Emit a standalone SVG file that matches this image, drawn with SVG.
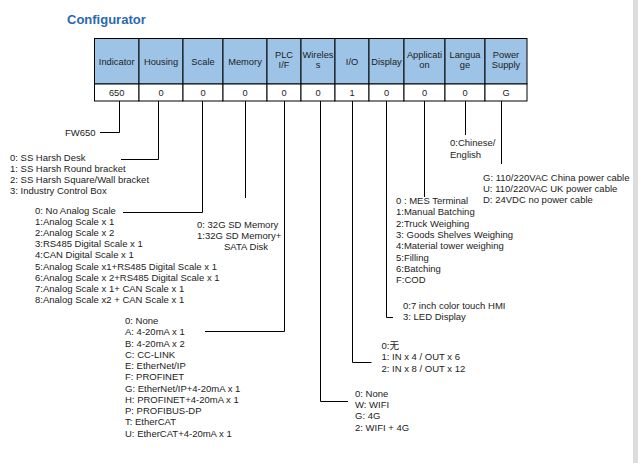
<svg xmlns="http://www.w3.org/2000/svg" width="638" height="463" viewBox="0 0 638 463">
<style>
text{font-family:"Liberation Sans","Noto Sans CJK SC",Arial,sans-serif;font-size:9.5px;fill:#222}
.c{text-anchor:middle}
.h{font-size:9.3px}
.title{font-size:13px;font-weight:bold;fill:#2b68b0}
.hd{fill:#9dc3e6;stroke:#000;stroke-width:1}
.vl{fill:#fff;stroke:#000;stroke-width:1}
.ln{fill:none;stroke:#000;stroke-width:1}
</style>
<rect x="0" y="0" width="638" height="463" fill="#fff"/>
<rect x="633" y="0" width="5" height="463" fill="#dcdcdc"/>
<text class="title" x="67" y="24">Configurator</text>
<g id="table">
<g id="col-indicator"><rect class="hd" x="94.5" y="38.5" width="44.5" height="45.5"/><rect class="vl" x="94.5" y="84" width="44.5" height="17"/><text class="c h" x="116.7" y="64.5">Indicator</text><text class="c h" x="116.7" y="96">650</text></g>
<g id="col-housing"><rect class="hd" x="139" y="38.5" width="44" height="45.5"/><rect class="vl" x="139" y="84" width="44" height="17"/><text class="c h" x="161" y="64.5">Housing</text><text class="c h" x="161" y="96">0</text></g>
<g id="col-scale"><rect class="hd" x="183" y="38.5" width="40" height="45.5"/><rect class="vl" x="183" y="84" width="40" height="17"/><text class="c h" x="203" y="64.5">Scale</text><text class="c h" x="203" y="96">0</text></g>
<g id="col-memory"><rect class="hd" x="223" y="38.5" width="44" height="45.5"/><rect class="vl" x="223" y="84" width="44" height="17"/><text class="c h" x="245" y="64.5">Memory</text><text class="c h" x="245" y="96">0</text></g>
<g id="col-plc"><rect class="hd" x="267" y="38.5" width="34" height="45.5"/><rect class="vl" x="267" y="84" width="34" height="17"/><text class="c h" x="284" y="58">PLC</text><text class="c h" x="284" y="67.5">I/F</text><text class="c h" x="284" y="96">0</text></g>
<g id="col-wireless"><rect class="hd" x="301" y="38.5" width="34" height="45.5"/><rect class="vl" x="301" y="84" width="34" height="17"/><text class="c h" x="318" y="58">Wireles</text><text class="c h" x="318" y="67.5">s</text><text class="c h" x="318" y="96">0</text></g>
<g id="col-io"><rect class="hd" x="335" y="38.5" width="34" height="45.5"/><rect class="vl" x="335" y="84" width="34" height="17"/><text class="c h" x="352" y="64.5">I/O</text><text class="c h" x="352" y="96">1</text></g>
<g id="col-display"><rect class="hd" x="369" y="38.5" width="35" height="45.5"/><rect class="vl" x="369" y="84" width="35" height="17"/><text class="c h" x="386.5" y="64.5">Display</text><text class="c h" x="386.5" y="96">0</text></g>
<g id="col-application"><rect class="hd" x="404" y="38.5" width="41" height="45.5"/><rect class="vl" x="404" y="84" width="41" height="17"/><text class="c h" x="424.5" y="58">Applicati</text><text class="c h" x="424.5" y="67.5">on</text><text class="c h" x="424.5" y="96">0</text></g>
<g id="col-language"><rect class="hd" x="445" y="38.5" width="40" height="45.5"/><rect class="vl" x="445" y="84" width="40" height="17"/><text class="c h" x="465" y="58">Langua</text><text class="c h" x="465" y="67.5">ge</text><text class="c h" x="465" y="96">0</text></g>
<g id="col-power"><rect class="hd" x="485" y="38.5" width="42" height="45.5"/><rect class="vl" x="485" y="84" width="42" height="17"/><text class="c h" x="506" y="58">Power</text><text class="c h" x="506" y="67.5">Supply</text><text class="c h" x="506" y="96">G</text></g>
</g>
<g id="connectors">
<path class="ln" d="M119.5,101 V132.5 H100"/>
<path class="ln" d="M158.5,101 V159.5 H121"/>
<path class="ln" d="M202.5,101 V212.5 H123"/>
<path class="ln" d="M245.5,101 V198"/>
<path class="ln" d="M284.5,101 V331.5 H205"/>
<path class="ln" d="M320.5,101 V401.5 H348"/>
<path class="ln" d="M352.5,101 V362.5 H371.5"/>
<path class="ln" d="M386.5,101 V317.5 H393"/>
<path class="ln" d="M424.5,101 V197"/>
<path class="ln" d="M465.5,101 V135"/>
<path class="ln" d="M501.5,101 V164"/>
</g>
<g id="indicator-opts"><text x="65" y="135.5">FW650</text></g>
<g id="housing-opts">
<text x="10" y="160.7">0: SS Harsh Desk</text>
<text x="10" y="171.9">1: SS Harsh Round bracket</text>
<text x="10" y="183.1">2: SS Harsh Square/Wall bracket</text>
<text x="10" y="194.3">3: Industry Control Box</text>
</g>
<g id="scale-opts">
<text x="35" y="214">0: No Analog Scale</text>
<text x="35" y="225.1">1:Analog Scale x 1</text>
<text x="35" y="236.2">2:Analog Scale x 2</text>
<text x="35" y="247.3">3:RS485 Digital Scale x 1</text>
<text x="35" y="258.4">4:CAN Digital Scale x 1</text>
<text x="35" y="269.5">5:Analog Scale x1+RS485 Digital Scale x 1</text>
<text x="35" y="280.6">6:Analog Scale x 2+RS485 Digital Scale x 1</text>
<text x="35" y="291.7">7:Analog Scale x 1+ CAN Scale x 1</text>
<text x="35" y="302.8">8:Analog Scale x2 + CAN Scale x 1</text>
</g>
<g id="memory-opts">
<text x="197" y="227.5">0: 32G SD Memory</text>
<text x="197" y="238.5">1:32G SD Memory+</text>
<text x="224" y="249.5">SATA Disk</text>
</g>
<g id="plc-opts">
<text x="125" y="324">0: None</text>
<text x="125" y="335.3">A: 4-20mA x 1</text>
<text x="125" y="346.5">B: 4-20mA x 2</text>
<text x="125" y="357.8">C: CC-LINK</text>
<text x="125" y="369.1">E: EtherNet/IP</text>
<text x="125" y="380.4">F: PROFINET</text>
<text x="125" y="391.6">G: EtherNet/IP+4-20mA x 1</text>
<text x="125" y="402.9">H: PROFINET+4-20mA x 1</text>
<text x="125" y="414.2">P: PROFIBUS-DP</text>
<text x="125" y="425.4">T: EtherCAT</text>
<text x="125" y="436.7">U: EtherCAT+4-20mA x 1</text>
</g>
<g id="wireless-opts">
<text x="355" y="396.7">0: None</text>
<text x="355" y="408">W: WIFI</text>
<text x="355" y="419.3">G: 4G</text>
<text x="355" y="430.6">2: WIFI + 4G</text>
</g>
<g id="io-opts">
<text x="381.5" y="348.5">0:无</text>
<text x="381.5" y="360">1: IN x 4 / OUT x 6</text>
<text x="381.5" y="371.5">2: IN x 8 / OUT x 12</text>
</g>
<g id="display-opts">
<text x="403" y="308.5">0:7 inch color touch HMI</text>
<text x="403" y="320">3: LED Display</text>
</g>
<g id="application-opts">
<text x="396" y="204">0 : MES Terminal</text>
<text x="396" y="215.3">1:Manual Batching</text>
<text x="396" y="226.6">2:Truck Weighing</text>
<text x="396" y="237.9">3: Goods Shelves Weighing</text>
<text x="396" y="249.2">4:Material tower weighing</text>
<text x="396" y="260.5">5:Filling</text>
<text x="396" y="271.8">6:Batching</text>
<text x="396" y="283.1">F:COD</text>
</g>
<g id="language-opts">
<text x="450" y="146">0:Chinese/</text>
<text x="450" y="158">English</text>
</g>
<g id="power-opts">
<text x="483" y="181">G: 110/220VAC China power cable</text>
<text x="483" y="192">U: 110/220VAC UK power cable</text>
<text x="483" y="203">D: 24VDC no power cable</text>
</g>
</svg>
